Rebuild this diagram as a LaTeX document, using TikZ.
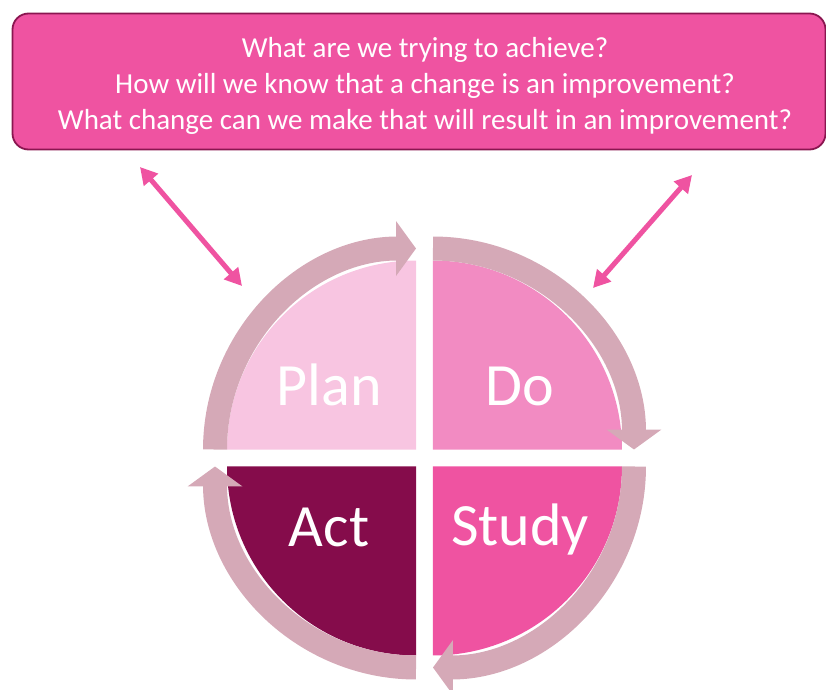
\documentclass[tikz,border=0pt]{standalone}
\usepackage{fontspec}
\setmainfont{Carlito}
\usetikzlibrary{arrows.meta}
\definecolor{boxpink}{HTML}{EF53A1}
\definecolor{boxline}{HTML}{8A1650}
\definecolor{ringpink}{HTML}{D5A9B7}
\definecolor{planpink}{HTML}{F8C5E1}
\definecolor{dopink}{HTML}{F28BC2}
\definecolor{studypink}{HTML}{EF53A1}
\definecolor{actpink}{HTML}{850C4B}

\begin{document}
\begin{tikzpicture}[x=1pt,y=1pt,
  ring/.style={ringpink,line width=24pt,-{Triangle[width=54pt,length=20pt]}},
  link/.style={boxpink,line width=5pt,{Triangle[width=18pt,length=17pt]}-{Triangle[width=18pt,length=17pt]}},
  word/.style={white,font=\fontsize{60}{72}\selectfont,anchor=base}]
  \useasboundingbox (0,0) rectangle (826,689);
  \node[draw=boxline,line width=1.8pt,fill=boxpink,rounded corners=16pt,
    minimum width=813pt,minimum height=136pt] (box) at (419,607.5) {};
  \node[white,font=\fontsize{29}{36}\selectfont,align=center] (questions) at (425,603.5)
    {What are we trying to achieve?\\How will we know that a change is an improvement?\\What change can we make that will result in an improvement?};
  \coordinate (c) at (424.5,231);
  \foreach \a/\col/\q/\txt/\dx/\dy in {90/planpink/plan/Plan/-87/44.5, 0/dopink/do/Do/87/44.5,
      270/studypink/study/Study/87/-79.5, 180/actpink/act/Act/-87/-80.5}{
    \path (c) ++(\a+45:12) coordinate (\q c);
    \fill[\col] (\q c) -- ++(\a:189) arc[start angle=\a, delta angle=90, radius=189] -- cycle;
    \draw[ring] ([shift={(\a+90:201)}]\q c) arc[start angle=\a+90, delta angle=-90, radius=201];
    \node[word] (\q) at ([shift={(\dx,\dy)}]\q c) {\txt};
  }
  \coordinate (l1) at (140,522);
  \coordinate (l2) at (242,403);
  \coordinate (r1) at (692,514);
  \coordinate (r2) at (593,401);
  \draw[link] (l1) -- (l2);
  \draw[link] (r1) -- (r2);
\end{tikzpicture}
\end{document}
